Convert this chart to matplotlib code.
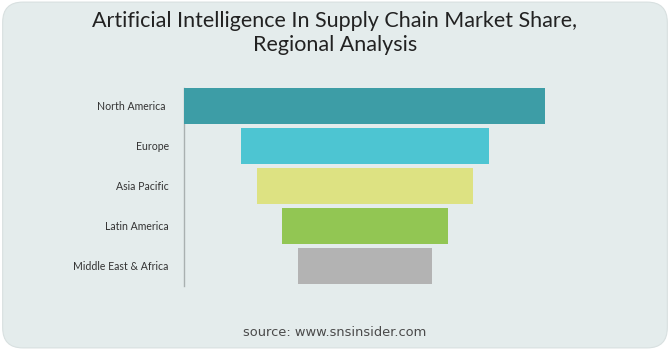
import matplotlib
matplotlib.use('Agg')
import matplotlib.pyplot as plt
from matplotlib.patches import FancyBboxPatch

# Data
regions = ['North America', 'Europe', 'Asia Pacific', 'Latin America', 'Middle East & Africa']
share = [36.1, 24.8, 21.6, 16.6, 13.4]
colors = ['#3d9da6', '#4dc5d2', '#dde282', '#92c653', '#b3b3b3']

title = 'Artificial Intelligence In Supply Chain Market Share,\nRegional Analysis'
source = 'source: www.snsinsider.com'

plt.rcParams['font.family'] = ['Lato', 'DejaVu Sans']

fig = plt.figure(figsize=(6.7, 3.5), dpi=100)
fig.patch.set_facecolor('white')

# rounded background panel
bg = FancyBboxPatch((0.004, 0.006), 0.992, 0.988,
                    boxstyle='round,pad=0,rounding_size=0.03',
                    transform=fig.transFigure, facecolor='#e4ecec',
                    edgecolor='#d8e0e0', lw=0.8, zorder=-5,
                    mutation_aspect=670 / 350)
fig.patches.append(bg)

ax = fig.add_axes([184 / 670, 1 - 286 / 350, 361 / 670, 198 / 350])
ax.set_facecolor('none')
ax.set_zorder(5)

mid = max(share) / 2
ypos = list(range(len(regions)))
lefts = [mid - s / 2 for s in share]
ax.barh(ypos, share, left=lefts, height=0.9, color=colors, zorder=3)

ax.set_xlim(0, max(share))
ax.set_ylim(4.5, -0.45)
ax.set_yticks(ypos)
ax.set_yticklabels([r + ' ' if i == 0 else r for i, r in enumerate(regions)],
                   fontsize=7.6, color='#333333')
ax.tick_params(axis='y', length=0, pad=11)
ax.set_xticks([])
for s in ['top', 'right', 'bottom']:
    ax.spines[s].set_visible(False)
ax.spines['left'].set_color('#a9b0b0')
ax.spines['left'].set_linewidth(1)

fig.text(0.5, 1 - 33 / 350, title, ha='center', va='center',
         fontsize=15.5, color='#222222', linespacing=1.2)
fig.text(0.5, 1 - 333 / 350, source, ha='center', va='center',
         fontsize=9.4, color='#4a4a4a', family='DejaVu Sans')

fig.savefig('out.png', dpi=100)
